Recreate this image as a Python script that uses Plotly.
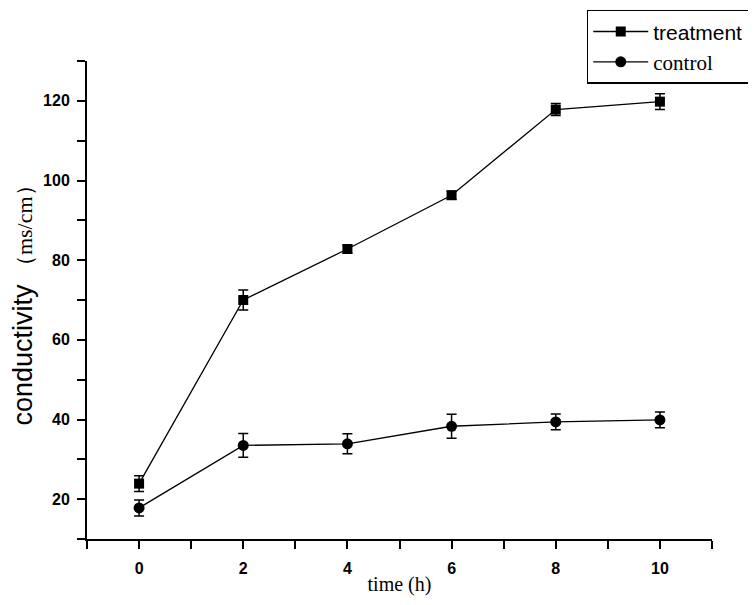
import plotly.graph_objects as go

time_h = [0, 2, 4, 6, 8, 10]
treatment = [23.9, 70.0, 82.8, 96.3, 117.8, 119.8]
treatment_err = [2.0, 2.5, 1.0, 1.0, 1.5, 2.0]
control = [17.8, 33.5, 33.9, 38.3, 39.4, 39.9]
control_err = [2.0, 3.0, 2.5, 3.0, 2.0, 2.0]
series_names = ["treatment", "control"]

SANS = "Liberation Sans, Arial, sans-serif"
SERIF = "Liberation Serif, Times New Roman, serif"
PAD = "\u00a0" * 2  # compensates legend width for the wider symbol slot

fig = go.Figure()
fig.add_trace(go.Scatter(
    x=time_h, y=treatment, mode="lines+markers",
    name=series_names[0] + PAD,
    line=dict(color="black", width=1.3),
    marker=dict(symbol="square", size=10, color="black"),
    error_y=dict(type="data", array=treatment_err, visible=True,
                 color="black", thickness=1.5, width=5),
))
fig.add_trace(go.Scatter(
    x=time_h, y=control, mode="lines+markers",
    name='<span style="font-family:Liberation Serif, Times New Roman, serif">' + series_names[1] + '</span>',
    line=dict(color="black", width=1.3),
    marker=dict(symbol="circle", size=11, color="black"),
    error_y=dict(type="data", array=control_err, visible=True,
                 color="black", thickness=1.5, width=5),
))

axis_common = dict(
    showline=True, linecolor="black", linewidth=2,
    ticks="outside", ticklen=8, tickwidth=2, tickcolor="black",
    showgrid=False, zeroline=False, mirror=False, automargin=False,
    tickfont=dict(family=SANS, size=16, color="black", weight="bold"),
)

fig.update_xaxes(
    range=[-1, 11], tickmode="linear", tick0=0, dtick=2,
    minor=dict(ticks="outside", ticklen=8, tickwidth=2, tickcolor="black", dtick=1, tick0=1),
    ticklabelstandoff=6,
    title=dict(text="time (h)", font=dict(family=SERIF, size=20, color="black"), standoff=1),
    **axis_common,
)
fig.update_yaxes(
    range=[10, 130], tickmode="linear", tick0=20, dtick=20,
    minor=dict(ticks="outside", ticklen=8, tickwidth=2, tickcolor="black", dtick=10, tick0=10),
    ticklabelstandoff=4,
    title=dict(text='conductivity <span style="font-family:Liberation Serif, Times New Roman, serif;font-size:22px">（ms/cm）</span>',
               font=dict(family=SANS, size=27, color="black"), standoff=9),
    **axis_common,
)

fig.update_layout(
    width=756, height=605,
    margin=dict(l=79, r=52, t=53, b=74, autoexpand=False),
    paper_bgcolor="white", plot_bgcolor="white",
    showlegend=True,
    legend=dict(
        x=1.078, y=1.107, xanchor="right", yanchor="top",
        bordercolor="black", borderwidth=1.5, bgcolor="white",
        font=dict(family=SANS, size=21, color="black"),
        tracegroupgap=0, itemwidth=55,
    ),
)

fig.write_html("out.html")
